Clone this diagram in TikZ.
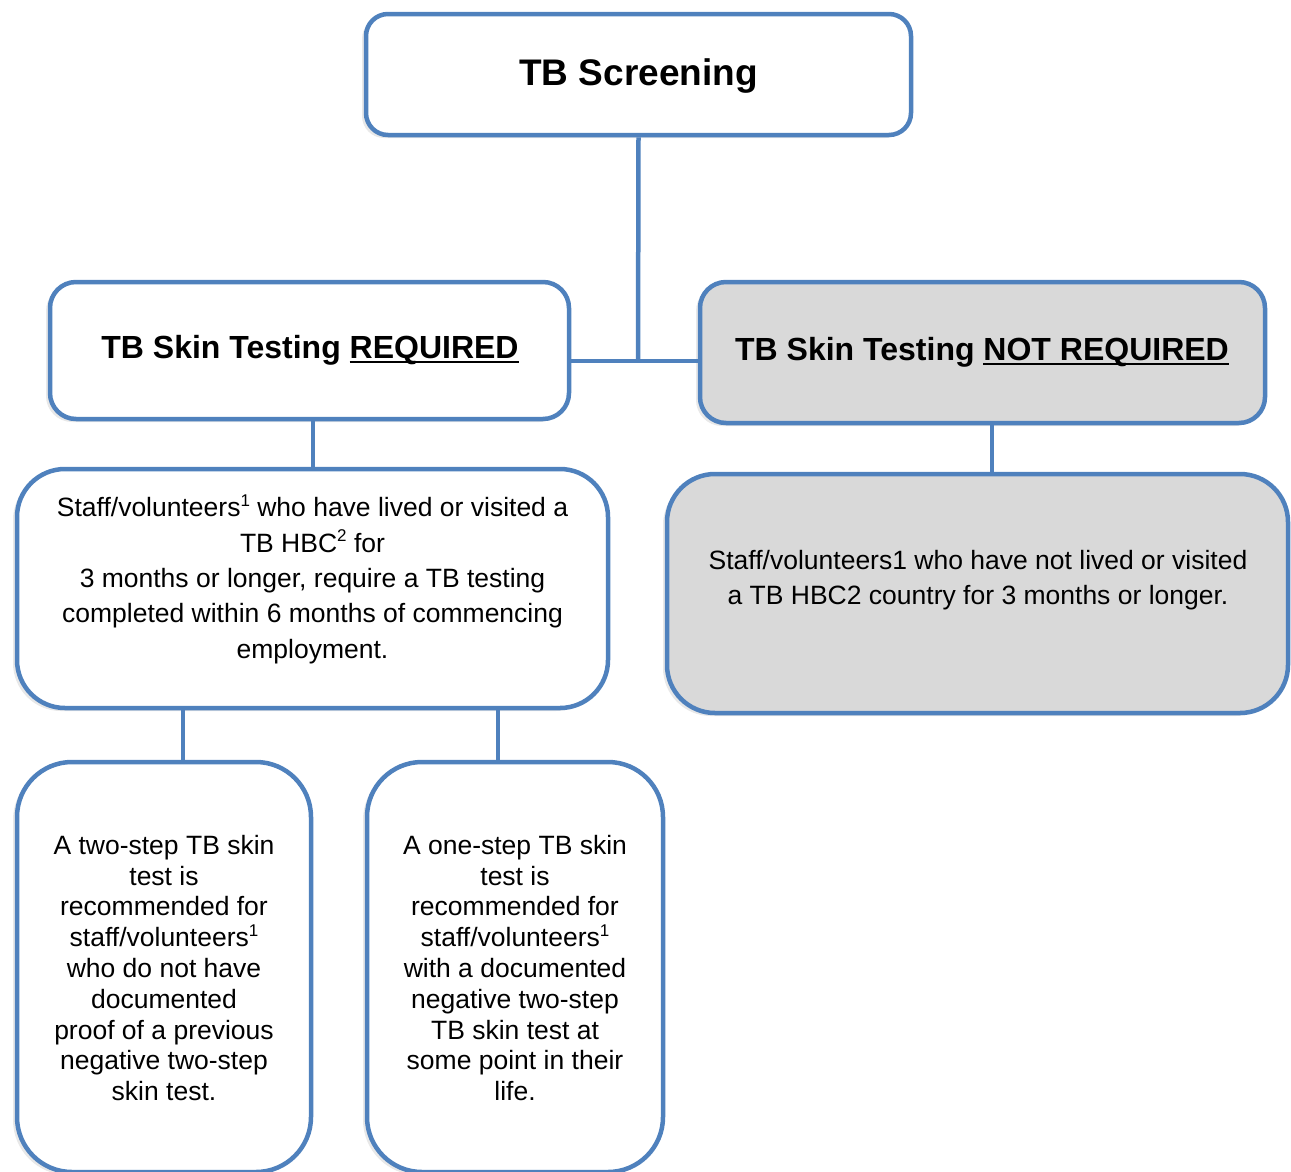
\documentclass[tikz,border=0pt]{standalone}
\usepackage{fontspec}
\setmainfont{Liberation Sans}
\usetikzlibrary{shadows}
\definecolor{bblue}{RGB}{79,129,189}
\definecolor{bgray}{RGB}{217,217,217}
\newcommand\myul[1]{\setbox0\hbox{#1}\rlap{\rule[-5pt]{\wd0}{2.2pt}}\box0}
\newcommand\mysup[1]{\raisebox{0.4em}{\fontsize{17}{17}\selectfont #1}}
\begin{document}
\begin{tikzpicture}[x=1pt,y=-1pt,
  box/.style={draw=bblue, line width=4.5pt, fill=white, rounded corners=#1, inner sep=0pt,
    drop shadow={shadow xshift=-4pt, shadow yshift=-3pt, opacity=0.18}},
  conn/.style={draw=bblue, line width=4.5pt},
  head/.style={font=\fontsize{32}{38}\selectfont\bfseries, inner sep=0pt},
  body/.style={font=\fontsize{26.5}{35.3}\selectfont, align=center, inner sep=0pt},
  small/.style={font=\fontsize{26.5}{30.8}\selectfont, align=center, inner sep=0pt}]
\useasboundingbox (0,0) rectangle (1291,1171);

% boxes
\node[box=22pt, minimum width=545pt, minimum height=121pt] (screen) at (638.5,74.5) {};
\node[box=26pt, minimum width=519pt, minimum height=137pt] (req) at (309.5,350.5) {};
\node[box=26pt, fill=bgray, minimum width=565pt, minimum height=141pt] (nreq) at (982.5,352.5) {};
\node[box=48pt, minimum width=591pt, minimum height=239pt] (staff) at (312.5,588.5) {};
\node[box=48pt, fill=bgray, minimum width=621pt, minimum height=239pt] (gray) at (977.5,593.5) {};
\node[box=55pt, minimum width=294pt, minimum height=410pt] (bl) at (164,967) {};
\node[box=55pt, minimum width=296pt, minimum height=410pt] (bm) at (515,967) {};

% texts
\node[font=\fontsize{37}{44}\selectfont\bfseries, inner sep=0pt] (t0) at (638.5,76) {TB Screening};
\node[head] (t1) at (310,350) {TB Skin Testing \myul{REQUIRED}};
\node[head] (t2) at (982,352) {TB Skin Testing \myul{NOT REQUIRED}};
\node[body] (t3) at (312.5,579) {Staff/volunteers\mysup{1} who have lived or visited a\\
TB HBC\mysup{2} for\\3 months or longer, require a TB testing\\completed within 6 months of commencing\\employment.};
\node[body] (t4) at (978,580) {Staff/volunteers1 who have not lived or visited\\a TB HBC2 country for 3 months or longer.};
\node[small] (t5) at (164,968) {A two-step TB skin\\test is\\recommended for\\staff/volunteers\mysup{1}\\who do not have\\documented\\proof of a previous\\negative two-step\\skin test.};
\node[small] (t6) at (515,968) {A one-step TB skin\\test is\\recommended for\\staff/volunteers\mysup{1}\\with a documented\\negative two-step\\TB skin test at\\some point in their\\life.};

% connectors
\coordinate (j) at (638,361);
\draw[conn] (screen.south) -- (j);
\draw[conn] (req.east |- j) -- (nreq.west |- j);
\draw[conn] ([xshift=3.5pt]req.south) -- ([xshift=3.5pt]req.south |- staff.north);
\draw[conn] ([xshift=9.5pt]nreq.south) -- ([xshift=9.5pt]nreq.south |- gray.north);
\draw[conn] ([xshift=19pt]bl.north) -- ([xshift=19pt]bl.north |- staff.south);
\draw[conn] ([xshift=-17pt]bm.north) -- ([xshift=-17pt]bm.north |- staff.south);
\end{tikzpicture}
\end{document}
